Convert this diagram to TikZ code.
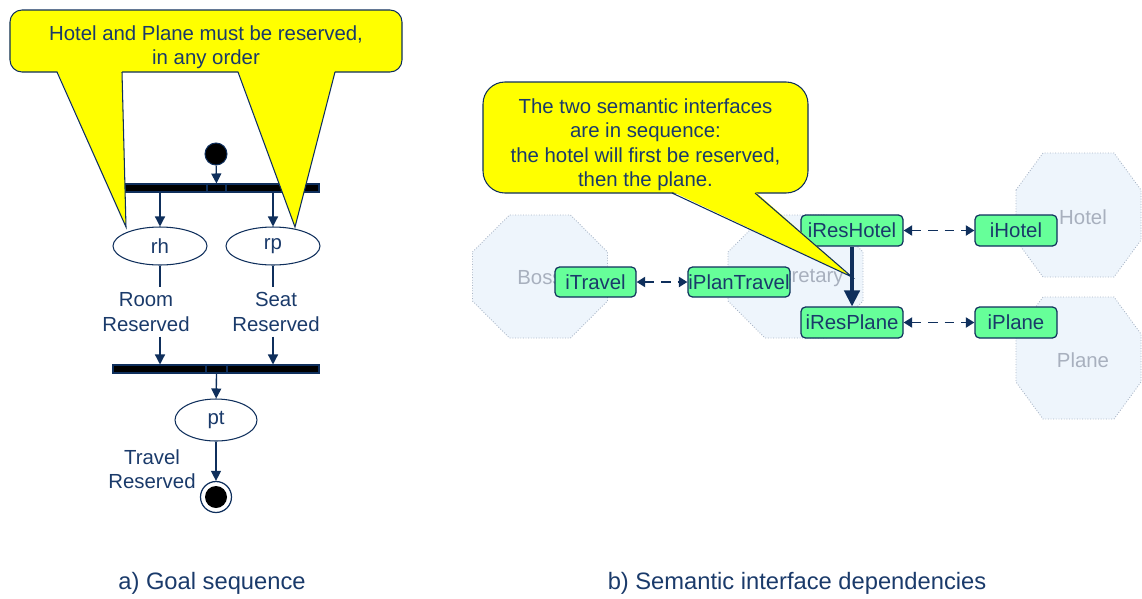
\documentclass[tikz,border=0pt]{standalone}
\usepackage{fontspec}
\setmainfont{Liberation Sans}
\usetikzlibrary{arrows.meta,shapes.geometric}
\definecolor{navy}{HTML}{0F2F5C}
\definecolor{ink}{HTML}{1A3A6A}
\definecolor{hintfill}{HTML}{FFFF00}
\definecolor{mint}{HTML}{66FF99}
\definecolor{mist}{HTML}{EEF5FC}
\definecolor{haze}{HTML}{A9B5C6}
\definecolor{ghost}{HTML}{A8B0BE}

\begin{document}
\begin{tikzpicture}[
  x=0.2mm, y=-0.2mm,
  font=\fontsize{11.6}{13.8}\selectfont, text=ink,
  flow/.style={-{Triangle[length=2mm,width=2mm]}, line width=0.75pt, draw=navy},
  wire/.style={line width=0.75pt, draw=navy},
  link/.style={{Triangle[length=1.7mm,width=2mm]}-{Triangle[length=1.7mm,width=2mm]},
               line width=1.1pt, draw=navy, dash pattern=on 1.9mm off 1.4mm},
  seqarrow/.style={-{Triangle[length=3.2mm,width=3.1mm]}, line width=1.8pt, draw=navy},
  hint/.style={draw=navy, line width=0.6pt, fill=hintfill, align=center, inner sep=0pt},
  bar/.style={rectangle, draw=navy, line width=0.6pt, fill=black, minimum height=1.6mm, inner sep=0pt},
  dot/.style={circle, draw=navy, line width=0.6pt, fill=black, minimum size=4.4mm, inner sep=0pt},
  stateell/.style={ellipse, draw=navy, line width=0.6pt, fill=white, inner sep=0pt},
  lbl/.style={align=center, inner sep=1mm},
  actor/.style={draw=haze, densely dotted, line width=0.5pt, fill=mist},
  actorlbl/.style={text=ghost, inner sep=0pt},
  iface/.style={rectangle, rounded corners=0.9mm, draw=navy, line width=0.7pt, fill=mint,
                inner sep=0pt, minimum height=6.2mm},
  caption/.style={font=\fontsize{13.5}{16}\selectfont}
]
\useasboundingbox (0,0) rectangle (1142,598);

% a) goal sequence
\node[dot] (start) at (216,154) {};
\node[bar, minimum width=16.4mm] (fork1) at (166,188) {};
\node[bar, minimum width=3.8mm] (fork2) at (216.5,188) {};
\node[bar, minimum width=18.6mm] (fork3) at (272.5,188) {};
\draw[flow] (start) -- (fork2);

\node[stateell, minimum width=18.8mm, minimum height=7.6mm] (rh) at (160,246) {rh};
\node[stateell, minimum width=18.8mm, minimum height=7.6mm] (rp) at (273,246) {rp};
\draw[flow] (rh.north |- fork1.south) -- (rh);
\draw[flow] (rp.north |- fork3.south) -- (rp);

\node[lbl] (rhlab) at (146,312) {Room\\Reserved};
\node[lbl] (rplab) at (276,312) {Seat\\Reserved};

\node[bar, minimum width=18.6mm] (join1) at (159.5,369) {};
\node[bar, minimum width=4.2mm] (join2) at (216.5,369) {};
\node[bar, minimum width=18.4mm] (join3) at (273,369) {};

\draw[wire] (rh) -- (rh.south |- rhlab.north);
\draw[flow] (rh.south |- rhlab.south) -- (rh.south |- join1.north);
\draw[wire] (rp) -- (rp.south |- rplab.north);
\draw[flow] (rp.south |- rplab.south) -- (rp.south |- join3.north);

\node[stateell, minimum width=16.4mm, minimum height=8.4mm] (pt) at (216,420) {pt};
\draw[flow] (join2) -- (pt);

\node[circle, draw=navy, line width=0.7pt, fill=white, minimum size=6.2mm, inner sep=0pt] (finish) at (216,497) {};
\node[dot, draw=none] (finishdot) at (finish) {};
\draw[flow] (pt) -- (finish);
\node[lbl] (ptlab) at (152,469) {Travel\\Reserved};

\node[hint, minimum width=78.4mm, minimum height=12.4mm, rounded corners=2.4mm] (hint1) at (206,41)
  {\rule{0pt}{1.33em}Hotel and Plane must be reserved,\\in any order};
\coordinate (tipRH) at (126,227);
\coordinate (tipRP) at (295,227);
\fill[hintfill] (57,70.5) -- (tipRH) -- (122,70.5) -- cycle;
\draw[navy, line width=0.6pt] (57,72) -- (tipRH) -- (122,72);
\fill[hintfill] (238,70.5) -- (tipRP) -- (335,70.5) -- cycle;
\draw[navy, line width=0.6pt] (238,72) -- (tipRP) -- (335,72);

\node[caption] (capa) at (212,583) {a) Goal sequence};

% b) semantic interface dependencies
\foreach \cx/\cy/\hw/\hh/\dx in {540/276.5/67.5/61.5/37, 795.5/276.5/67.5/61.5/37,
                                 1078.5/215/62.5/62/27, 1078.5/358/62.5/61/27}
  \draw[actor] ({\cx-\hw},{\cy-\hh+37}) -- ({\cx-\hw+\dx},{\cy-\hh}) -- ({\cx+\hw-\dx},{\cy-\hh})
    -- ({\cx+\hw},{\cy-\hh+37}) -- ({\cx+\hw},{\cy+\hh-37}) -- ({\cx+\hw-\dx},{\cy+\hh})
    -- ({\cx-\hw+\dx},{\cy+\hh}) -- ({\cx-\hw},{\cy+\hh-37}) -- cycle;
\node[actorlbl] (boss) at (540,278) {Boss};
\node[actorlbl] (secretary) at (800,277) {Secretary};
\node[actorlbl] (hotel) at (1083,217) {Hotel};
\node[actorlbl] (plane) at (1083,360) {Plane};

\node[iface, minimum width=16.2mm, minimum height=6mm] (itravel) at (595.5,282) {iTravel};
\node[iface, minimum width=20.4mm, minimum height=6mm] (iplantravel) at (739,282) {iPlanTravel};
\node[iface, minimum width=20.4mm] (ireshotel) at (852,230.5) {iResHotel};
\node[iface, minimum width=16.4mm] (ihotel) at (1016,230.5) {iHotel};
\node[iface, minimum width=20.4mm] (iresplane) at (852,322.5) {iResPlane};
\node[iface, minimum width=16.4mm] (iplane) at (1016,322.5) {iPlane};

\draw[link] (itravel) -- (iplantravel);
\draw[link] (ireshotel) -- (ihotel);
\draw[link] (iresplane) -- (iplane);
\draw[seqarrow] (ireshotel) -- (iresplane);

\node[hint, minimum width=65mm, minimum height=22.2mm, rounded corners=4.4mm] (hint2) at (645.5,137.5)
  {\rule{0pt}{1.43em}The two semantic interfaces\\are in sequence:\\the hotel will first be reserved,\\then the plane.};
\coordinate (tipSeq) at (852,277);
\fill[hintfill] (672,191.5) -- (tipSeq) -- (755,191.5) -- cycle;
\draw[navy, line width=0.6pt] (672,193) -- (tipSeq) -- (755,193);

\node[caption] (capb) at (797,583) {b) Semantic interface dependencies};
\end{tikzpicture}
\end{document}
